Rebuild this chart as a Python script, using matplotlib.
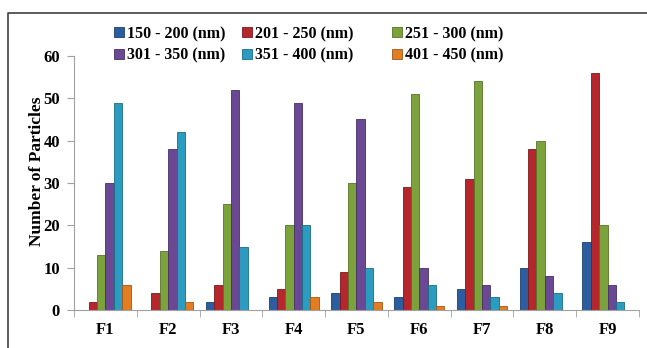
import matplotlib
matplotlib.use("Agg")
import matplotlib.pyplot as plt
import numpy as np
from matplotlib.lines import Line2D
from matplotlib.patches import Patch

categories = ["F1", "F2", "F3", "F4", "F5", "F6", "F7", "F8", "F9"]
series_labels = ["150 - 200 (nm)", "201 - 250 (nm)", "251 - 300 (nm)",
                 "301 - 350 (nm)", "351 - 400 (nm)", "401 - 450 (nm)"]
s150_200 = [0, 0, 2, 3, 4, 3, 5, 10, 16]
s201_250 = [2, 4, 6, 5, 9, 29, 31, 38, 56]
s251_300 = [13, 14, 25, 20, 30, 51, 54, 40, 20]
s301_350 = [30, 38, 52, 49, 45, 10, 6, 8, 6]
s351_400 = [49, 42, 15, 20, 10, 6, 3, 4, 2]
s401_450 = [6, 2, 0, 3, 2, 1, 1, 0, 0]
series = [s150_200, s201_250, s251_300, s301_350, s351_400, s401_450]
colors = ["#2C5E9F", "#B5272D", "#7CA23C", "#6A4893", "#2B9CC0", "#E27D22"]
edges = ["#1C3F6E", "#7A1A1E", "#56732A", "#463066", "#1C6C86", "#A05516"]

plt.rcParams['font.family'] = ['Liberation Serif', 'DejaVu Serif']
plt.rcParams['font.weight'] = 'bold'

fig = plt.figure(figsize=(6.47, 3.48), dpi=100)
W, H = 647, 348
# outer frame (left and top edges only visible)
fx, fy = 7.5 / W, (H - 12.5) / H
fig.add_artist(Line2D([fx, fx, 1.0], [0.0, fy, fy], transform=fig.transFigure,
                      color="#404040", linewidth=1.2))

ax = fig.add_axes([74 / W, (H - 310) / H, (639 - 74) / W, (310 - 56) / H])
x = np.arange(len(categories))
n = len(series)
bw = 0.8 / n
for i, (vals, c, e) in enumerate(zip(series, colors, edges)):
    ax.bar(x - 0.4 + bw * (i + 0.5), vals, width=bw, color=c, edgecolor=e, linewidth=0.6,
           label=series_labels[i])

ax.set_xlim(-0.5, len(categories) - 0.5)
ax.set_ylim(0, 60)
ax.set_yticks(range(0, 61, 10))
ax.set_xticks(x)
ax.set_xticklabels(categories, fontsize=12, fontweight='bold')
ax.set_xticks(np.arange(-0.5, len(categories), 1), minor=True)
ax.tick_params(axis='x', which='major', length=0, pad=9)
ax.tick_params(axis='x', which='minor', length=5, color="#A0A0A0", direction='out')
ax.tick_params(axis='y', length=5, color="#A0A0A0", labelsize=12, pad=5)
for lab in ax.get_yticklabels():
    lab.set_fontweight('bold')
for s in ["top", "right"]:
    ax.spines[s].set_visible(False)
for s in ["left", "bottom"]:
    ax.spines[s].set_color("#A0A0A0")
ax.set_ylabel("Number of Particles", fontsize=12.5, fontweight='bold')
ax.yaxis.set_label_coords(-0.052, 0.545)

handles = [Patch(facecolor=c, edgecolor=e, linewidth=0.6) for c, e in zip(colors, edges)]
col_x = [114, 242, 392]
for ci in range(3):
    idx = [ci, ci + 3]
    fig.legend([handles[k] for k in idx], [series_labels[k] for k in idx],
               loc="upper left", bbox_to_anchor=(col_x[ci] / W, (H - 26) / H),
               frameon=False, handlelength=0.6, handleheight=0.6, handletextpad=0.2,
               labelspacing=0.35, borderpad=0, borderaxespad=0,
               prop={'size': 11.5, 'weight': 'bold'})

fig.savefig("out.png", dpi=100)
